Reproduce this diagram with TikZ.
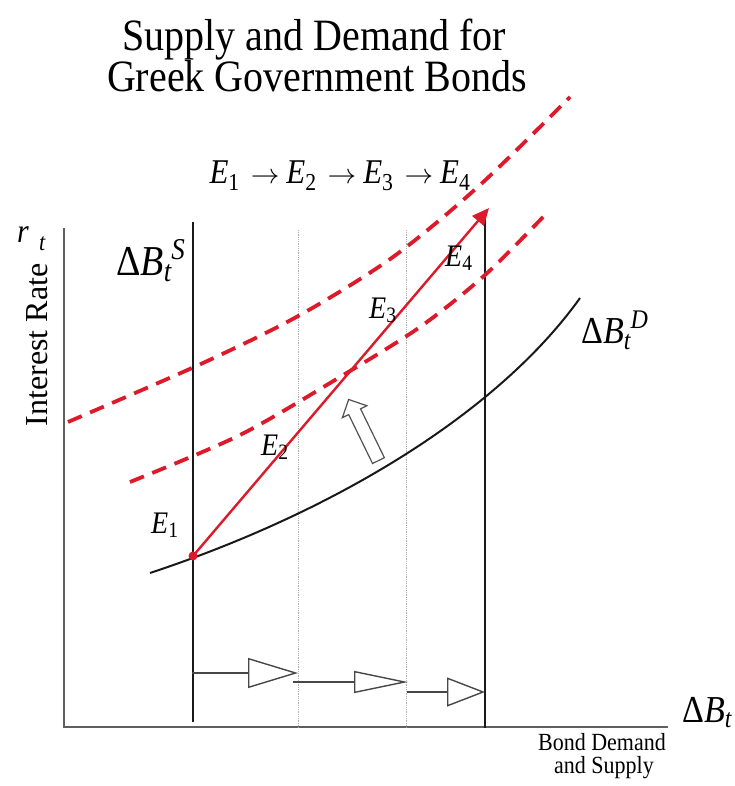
\documentclass[tikz,border=0pt]{standalone}
\usepackage{fontspec}
\setmainfont{Liberation Serif}
\usetikzlibrary{arrows.meta,shapes.arrows}
\definecolor{curve}{RGB}{25,25,25}
\definecolor{redline}{RGB}{221,26,42}
\definecolor{aux}{RGB}{175,175,175}
\definecolor{axis}{RGB}{95,95,95}
\newcommand\tall[1]{\scalebox{1}[1.12]{#1}}
\newcommand\goes{\kern11pt\scalebox{1.15}[1]{$\rightarrow$}\kern7pt}
\tikzset{
  scurve/.style={curve,line width=2pt},
  ssupply/.style={curve,line width=1.8pt},
  sshift/.style={redline,line width=3.8pt,dash pattern=on 15pt off 9pt},
  spath/.style={redline,line width=2.4pt},
  saux/.style={aux,line width=0.8pt,densely dotted},
  saxis/.style={axis,line width=1.6pt},
  sdot/.style={circle,fill=redline,inner sep=0pt,minimum size=9pt},
  smove/.style={curve!80,line width=1.4pt},
  slab/.style={inner sep=0pt,anchor=base west,font=\fontsize{28}{30}\selectfont\itshape},
}
\begin{document}
\begin{tikzpicture}[x=1pt,y=-1pt]
  \useasboundingbox (0,0) rectangle (734,786);
  % ---- title ----
  \node[anchor=base,inner sep=0pt,font=\fontsize{40}{44}\selectfont] (title1) at (314,51) {\tall{Supply and Demand for}};
  \node[anchor=base,inner sep=0pt,font=\fontsize{40}{44}\selectfont] (title2) at (317,92) {\tall{Greek Government Bonds}};
  \node[anchor=base,inner sep=0pt,font=\fontsize{31}{32}\selectfont] (chain) at (340,184)
     {\tall{\textit{E}\textsubscript{1}\goes\textit{E}\textsubscript{2}\goes\textit{E}\textsubscript{3}\goes\textit{E}\textsubscript{4}}};
  % ---- axes ----
  \draw[saxis] (64,228) -- (64,727) -- (668,727);
  \node[anchor=base west,inner sep=0pt,font=\fontsize{30}{32}\selectfont\itshape] (rt) at (17,243) {\tall{r}};
  \node[anchor=base west,inner sep=0pt,font=\fontsize{22}{24}\selectfont\itshape] (rtsub) at (39,251) {\tall{t}};
  \node[rotate=90,inner sep=0pt,font=\fontsize{32}{34}\selectfont] (ylab) at (37,345) {Interest Rate};
  \node[anchor=base west,inner sep=0pt,font=\fontsize{34}{36}\selectfont] (xlab) at (682,722) {\tall{Δ\textit{B}\textsubscript{\itshape t}}};
  \node[anchor=base,inner sep=0pt,font=\fontsize{22}{24}\selectfont] (xcap1) at (602,750) {\tall{Bond Demand}};
  \node[anchor=base,inner sep=0pt,font=\fontsize{22}{24}\selectfont] (xcap2) at (604,773) {\tall{and Supply}};
  % ---- grid ----
  \draw[saux] (298,230) -- (298,727);
  \draw[saux] (406,230) -- (406,727);
  % ---- supply ----
  \draw[ssupply] (193,222) -- (193,722);
  \draw[ssupply] (485,213) -- (485,728);
  \node[anchor=base west,inner sep=0pt,font=\fontsize{38}{40}\selectfont] (slab) at (116,275)
     {\tall{Δ\textit{B}\raisebox{-0.35ex}{\fontsize{27}{28}\selectfont\itshape t}\raisebox{0.8ex}{\fontsize{27}{28}\selectfont\itshape S}}};
  % ---- demand and its shifts ----
  \draw[sshift] plot[smooth] coordinates {(68,422) (203,363) (300,315) (393,257) (480,185) (570,97)};
  \draw[sshift] plot[smooth] coordinates {(130,482) (240,435) (340,377) (420,327) (485,275) (545,215)};
  \draw[scurve] (150,573) .. controls (340,510) and (500,410) .. (580,298);
  \node[anchor=base west,inner sep=0pt,font=\fontsize{34}{36}\selectfont] (dlab) at (581,343)
     {\tall{Δ\textit{B}\raisebox{-0.35ex}{\fontsize{24}{26}\selectfont\itshape t}\raisebox{0.85ex}{\fontsize{24}{26}\selectfont\itshape D}}};
  \node[single arrow,draw=curve!75,fill=white,line width=1.2pt,minimum height=68pt,
        minimum width=26pt,inner sep=6pt,single arrow head extend=7pt,rotate=116] (push) at (365,433) {};
  % ---- equilibria ----
  \coordinate (e1) at (193,556);
  \coordinate (e4) at (489,208);
  \draw[spath,-{Triangle[length=17pt,width=15pt]}] (e1) -- (e4);
  \node[sdot] (e1dot) at (e1) {};
  \node[slab] (le1) at (151,533) {\tall{E\textsubscript{\upshape 1}}};
  \node[slab] (le2) at (261,455) {\tall{E\textsubscript{\upshape 2}}};
  \node[slab] (le3) at (369,318) {\tall{E\textsubscript{\upshape 3}}};
  \node[slab] (le4) at (445,266) {\tall{E\textsubscript{\upshape 4}}};
  % ---- supply moves ----
  \coordinate (m1a) at (192,673);
  \coordinate (m1b) at (298,673);
  \coordinate (m2a) at (293,682);
  \coordinate (m2b) at (408,682);
  \coordinate (m3a) at (407,692);
  \coordinate (m3b) at (485,692);
  \draw[smove,-{Triangle[open,length=50pt,width=30pt]}] (m1a) -- (m1b);
  \draw[smove,-{Triangle[open,length=54pt,width=22pt]}] (m2a) -- (m2b);
  \draw[smove,-{Triangle[open,length=38pt,width=29pt]}] (m3a) -- (m3b);
\end{tikzpicture}
\end{document}
